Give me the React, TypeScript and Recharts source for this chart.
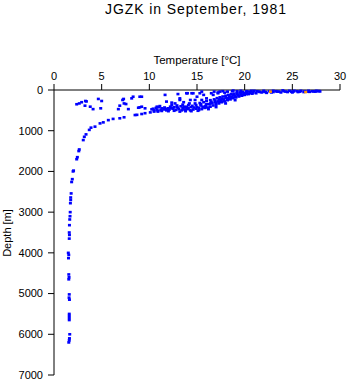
import React from "react"
import { ScatterChart, Scatter, XAxis, YAxis } from "recharts"

// [temperature °C, depth m]
const deepProfile: [number, number][] = [
  [1.55, 6200], [1.6, 6150], [1.62, 6100], [1.65, 6000], [1.6, 5650], [1.6, 5600],
  [1.6, 5550], [1.6, 5500], [1.62, 5150], [1.58, 5100], [1.6, 5020], [1.55, 4650],
  [1.58, 4600], [1.55, 4530], [1.52, 4130], [1.55, 4050], [1.5, 4000], [1.6, 3650],
  [1.62, 3560], [1.6, 3500], [1.62, 3320], [1.65, 3180], [1.68, 3100], [1.7, 3000],
  [1.72, 2780], [1.75, 2700], [1.75, 2640], [1.8, 2540], [1.85, 2260], [1.92, 2190],
  [2.0, 2000], [2.05, 1980], [2.38, 1700], [2.45, 1650], [2.6, 1500], [2.65, 1460],
]

const upperCurve: [number, number][] = [
  [3.07, 1230], [3.18, 1150], [3.36, 1090], [3.7, 980], [3.88, 925], [4.3, 900],
  [4.83, 820], [5.17, 795], [5.7, 740], [6.2, 710], [6.9, 695], [7.35, 670],
  [8.5, 615], [8.7, 610], [9.2, 590], [9.55, 570], [10.1, 550], [10.5, 530],
  [10.9, 510], [11.3, 515], [11.6, 475], [12.4, 450],
]

const scatteredUpper: [number, number][] = [
  [2.38, 350], [2.65, 330], [2.9, 300], [3.3, 270], [3.4, 280], [3.25, 385],
  [3.8, 410], [4.1, 470], [4.65, 220], [5.0, 270], [4.9, 450], [6.75, 470],
  [6.9, 385], [7.2, 245], [7.35, 330], [7.8, 470], [7.3, 220], [7.55, 345],
  [8.3, 165], [9.0, 165], [9.2, 165], [8.15, 205], [9.0, 425], [8.85, 435],
  [9.55, 450], [9.2, 410], [10.25, 475], [10.8, 410], [11.1, 395], [11.65, 120],
  [11.8, 285], [12.0, 450], [12.35, 310], [13.0, 100], [13.2, 205], [13.6, 410],
  [13.9, 80], [14.3, 245], [14.45, 80], [14.8, 330], [15.3, 80], [15.5, 245],
  [16.0, 205], [16.7, 120], [17.2, 80], [14.0, 80], [14.6, 80], [15.5, 40],
]

const thermocline: [number, number][] = [
  [10.5, 500], [10.8, 480], [11.2, 490], [11.5, 470], [11.8, 500], [12.1, 480],
  [12.5, 460], [12.8, 490], [13.1, 470], [13.4, 500], [13.7, 480], [14.0, 470],
  [14.3, 500], [14.6, 480], [14.9, 460], [15.2, 490], [15.5, 470], [15.8, 440],
  [16.1, 430], [16.4, 410], [16.7, 380], [17.0, 360], [17.3, 330], [17.6, 300],
  [17.9, 280], [18.2, 250], [18.5, 230], [18.8, 200], [19.1, 180], [19.4, 160],
  [19.7, 140], [20.0, 120], [20.4, 100], [20.8, 90], [21.2, 80],
  [11.0, 420], [11.6, 430], [12.2, 410], [12.9, 420], [13.3, 400], [13.9, 410],
  [14.5, 390], [15.0, 420], [15.4, 380], [15.9, 390], [16.3, 350], [16.6, 320],
  [16.9, 300], [17.2, 280], [17.5, 250], [17.8, 230], [18.1, 200], [18.4, 180],
  [18.7, 160], [19.0, 140], [19.3, 120], [19.6, 110], [19.9, 90],
  [12.35, 370], [12.7, 330], [13.2, 245], [13.6, 300], [14.2, 330], [14.8, 245],
  [15.0, 165], [15.7, 120], [15.3, 320], [15.7, 300], [16.0, 270], [16.4, 250],
  [16.8, 230], [17.1, 200], [17.4, 180], [17.7, 160], [18.0, 140], [18.3, 120],
  [18.6, 100], [18.9, 90], [19.2, 70], [19.5, 60], [19.8, 50], [20.2, 60],
  [14.0, 450], [15.1, 510], [16.2, 470], [17.0, 420], [18.0, 330], [19.0, 250],
]

const thermoclineCore: [number, number][] = [
  [10.4, 460], [10.7, 440], [11.3, 450], [11.9, 460], [12.3, 440], [12.6, 420],
  [13.0, 440], [13.5, 450], [13.8, 430], [14.1, 440], [14.4, 420], [14.7, 430],
  [15.2, 440], [15.6, 410], [15.9, 410], [12.0, 520], [12.6, 510], [13.2, 530],
  [13.8, 520], [14.4, 520], [10.9, 530], [15.4, 350], [14.9, 370], [14.1, 370],
  [13.5, 360], [12.9, 380], [16.5, 290], [16.9, 260], [17.3, 230], [17.6, 210],
  [18.0, 180], [18.4, 150], [18.8, 120], [19.2, 100], [19.6, 80], [20.0, 70],
  [16.0, 350], [16.4, 330], [17.0, 320], [17.4, 290], [17.8, 260], [18.2, 220],
  [18.6, 190], [19.0, 170], [19.4, 140], [19.8, 120], [20.2, 100], [20.6, 80],
]

const surfaceLayer: [number, number][] = [
  [16.5, 80], [16.8, 40], [17.2, 60], [17.4, 40], [17.7, 30], [17.9, 65],
  [18.2, 40], [18.7, 30], [18.8, 15], [19.2, 30], [19.6, 20],
  [20.5, 40], [20.9, 60], [21.0, 20], [21.3, 30], [21.6, 50], [22.0, 40],
  [22.0, 20], [22.3, 70], [22.6, 30], [23.0, 50], [23.0, 20], [23.4, 40],
  [23.8, 60], [24.0, 10], [24.1, 30], [24.5, 50], [24.9, 40], [25.0, 60],
  [25.2, 20], [25.5, 30], [25.6, 50], [25.9, 20], [26.2, 50], [26.3, 30],
  [26.7, 20], [26.8, 45], [27.1, 30], [27.4, 40], [27.5, 20], [27.8, 25], [27.9, 35],
  [20.2, 30], [20.7, 20], [21.5, 40], [22.2, 50], [22.9, 30], [23.6, 40],
  [24.3, 40], [25.1, 40], [25.8, 40], [26.5, 40], [27.2, 35], [27.6, 30],
  [24.7, 20], [23.3, 30], [21.8, 60], [22.8, 60],
]

const orangeMarks: [number, number][] = [[22.7, 40], [26.4, 50]]

const tempTicks = [0, 5, 10, 15, 20, 25, 30]
const depthTicks = [0, 1000, 2000, 3000, 4000, 5000, 6000, 7000]

const toRows = (pts: [number, number][]) => pts.map(([t, d]) => ({ t, d }))

const blueData = toRows([
  ...deepProfile, ...upperCurve, ...scatteredUpper, ...thermocline, ...thermoclineCore, ...surfaceLayer,
])
const orangeData = toRows(orangeMarks)

const font = "'Liberation Sans', Arial, sans-serif"

const Dot = (props: any) => {
  const { cx, cy, fill } = props
  if (cx == null || cy == null) return null
  return <rect x={cx - 1.5} y={cy - 1.3} width={3} height={2.6} fill={fill} />
}

export default function App() {
  return (
    <div style={{ position: "absolute", left: 0, top: 0, width: 348, height: 384, background: "#fff", fontFamily: font }}>
      <div style={{ position: "absolute", left: 0, top: 0, width: 392, textAlign: "center", fontSize: 14, letterSpacing: 0.9, lineHeight: "18px", color: "#000" }}>
        JGZK in September, 1981
      </div>
      <ScatterChart width={348} height={384} margin={{ top: 0, right: 8, bottom: 9, left: 0 }}>
        <XAxis
          type="number"
          dataKey="t"
          orientation="top"
          domain={[0, 30]}
          ticks={tempTicks}
          height={90}
          tickSize={6}
          tickMargin={4}
          stroke="#000"
          tick={{ fontSize: 11, fill: "#000", fontFamily: font }}
          label={{
            content: (p: any) => (
              <text x={p.viewBox.x + p.viewBox.width / 2} y={64} textAnchor="middle" fontSize={11.5} fontFamily={font} fill="#000">
                Temperature [°C]
              </text>
            ),
          }}
        />
        <YAxis
          type="number"
          dataKey="d"
          domain={[0, 7000]}
          reversed
          ticks={depthTicks}
          width={54}
          tickSize={6}
          tickMargin={5}
          stroke="#000"
          tick={{ fontSize: 11, fill: "#000", fontFamily: font }}
          label={{
            content: () => (
              <text x={11} y={233} transform="rotate(-90 11 233)" textAnchor="middle" fontSize={11} fontFamily={font} fill="#000">
                Depth [m]
              </text>
            ),
          }}
        />
        <Scatter data={blueData} fill="#0000ff" shape={Dot} isAnimationActive={false} />
        <Scatter data={orangeData} fill="#ff9900" shape={Dot} isAnimationActive={false} />
      </ScatterChart>
    </div>
  )
}
